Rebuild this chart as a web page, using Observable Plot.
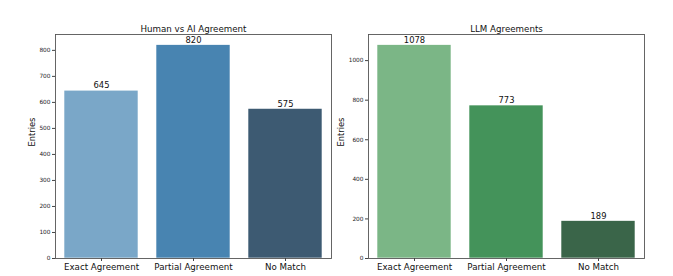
<!DOCTYPE html>
<html><head><meta charset="utf-8">
<script src="https://cdn.jsdelivr.net/npm/d3@7"></script>
<script src="https://cdn.jsdelivr.net/npm/@observablehq/plot@0.6"></script>
<style>
body{margin:0;background:#fff;}
#wrap{position:relative;width:673px;height:276px;font-family:"DejaVu Sans",sans-serif;}
#wrap svg{position:absolute;top:0;background:#fff;}
</style></head>
<body><div id="wrap"></div>
<script>
const categories = ["Exact Agreement", "Partial Agreement", "No Match"];
const humanValues = [645, 820, 575];
const llmValues = [1078, 773, 189];
const humanColors = ["#7aa7c8", "#4884b1", "#3d5a72"];
const llmColors = ["#7bb686", "#44935a", "#3a6549"];
const humanTicks = [0,100,200,300,400,500,600,700,800];
const llmTicks = [0,200,400,600,800,1000];

function panel({title, values, colors, ticks, width, marginLeft, marginRight, yMax, labelDx}) {
  const data = categories.map((c,i)=>({cat:c, v:values[i], col:colors[i]}));
  return Plot.plot({
    width, height: 276,
    marginLeft, marginRight, marginTop: 34, marginBottom: 18,
    style: {fontFamily: '"DejaVu Sans", sans-serif', color: "#222", background: "#fff"},
    x: {domain: categories, paddingInner: 0.2, paddingOuter: 0.1, label: null},
    y: {domain: [0, yMax], label: null},
    marks: [
      Plot.barY(data, {x: "cat", y: "v", fill: "col", stroke: "#fff", strokeWidth: 0.6}),
      Plot.text(data, {x: "cat", y: "v", text: d => String(d.v), dy: -5, fontSize: 8.4, fill: "#111"}),
      Plot.frame({stroke: "#555", strokeWidth: 0.9}),
      Plot.axisY({ticks, tickFormat: d => String(d), tickSize: 3, tickPadding: 2, fontSize: 5.8, fill: "#222", stroke: "#444", label: null}),
      Plot.axisX({tickSize: 3, tickPadding: 2.5, fontSize: 8.7, fill: "#111", stroke: "#444", label: null}),
      Plot.text([title], {frameAnchor: "top", lineAnchor: "bottom", dy: -3, fontSize: 8.7, fill: "#111"}),
      Plot.text(["Entries"], {frameAnchor: "left", rotate: -90, dx: labelDx, fontSize: 8.3, fill: "#111"})
    ]
  });
}

const left = panel({title: "Human vs AI Agreement", values: humanValues, colors: humanColors, ticks: humanTicks,
  width: 336, marginLeft: 55, marginRight: 5, yMax: 820 * 1.05, labelDx: -23});
const right = panel({title: "LLM Agreements", values: llmValues, colors: llmColors, ticks: llmTicks,
  width: 337, marginLeft: 32, marginRight: 29, yMax: 1078 * 1.05, labelDx: -27});
left.style.left = "0px";
right.style.left = "336px";
document.getElementById("wrap").append(left, right);
</script></body></html>
